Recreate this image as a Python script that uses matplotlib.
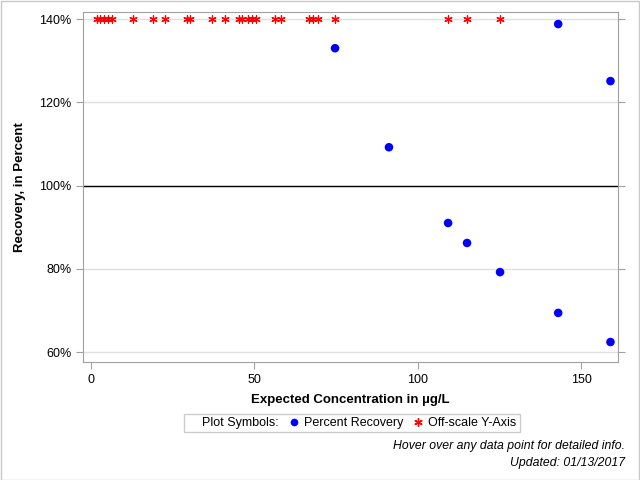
import matplotlib
matplotlib.use('Agg')
import matplotlib.pyplot as plt
from matplotlib.lines import Line2D
from matplotlib.ticker import FuncFormatter

plt.rcParams['font.family'] = ['Liberation Sans', 'DejaVu Sans']

# 회수율 데이터
conc = [74.7, 91.2, 109.3, 115.1, 125.2, 143.0, 159.0, 143.0, 159.0]
recovery = [133.0, 109.2, 91.0, 86.2, 79.2, 69.4, 62.4, 138.8, 125.1]

# 축 밖 값 (140% 위치에 표시)
offscale_conc = [1.8, 2.8, 4.0, 5.2, 6.4, 12.9, 19.0, 22.7, 29.4, 30.3, 37.0,
                 41.0, 45.3, 46.2, 48.1, 49.3, 50.5, 56.3, 58.2, 66.7, 68.0,
                 69.5, 74.7, 109.3, 115.1, 125.2]
offscale_level = 140

y_ticks = [60, 80, 100, 120, 140]
x_ticks = [0, 50, 100, 150]

fig = plt.figure(figsize=(6.4, 4.8), dpi=100)
ax = fig.add_axes([0.1297, 0.2458, 0.8359, 0.7292])

frame = '#a0a0a0'
for s in ax.spines.values():
    s.set_color(frame)

ax.set_xlim(-2.45, 161.3)
ax.set_ylim(57.6, 141.7)
ax.set_yticks(y_ticks)
ax.set_xticks(x_ticks)
ax.yaxis.set_major_formatter(FuncFormatter(lambda v, p: f'{v:.0f}%'))
ax.tick_params(axis='both', colors=frame, labelcolor='black', labelsize=9, length=5)
ax.tick_params(axis='y', right=True)
ax.grid(axis='y', color='#e0e0e0', linewidth=1)
ax.set_axisbelow(True)
ax.axhline(100, color='black', linewidth=1)

ax.scatter(offscale_conc, [offscale_level] * len(offscale_conc),
           marker=(6, 2, 0), s=28, color='red', linewidths=0.9, zorder=3)
ax.scatter(conc, recovery, marker='o', s=38, color='blue', edgecolors='none', zorder=4)

ax.set_xlabel('Expected Concentration in µg/L', fontsize=9.5, fontweight='bold', labelpad=6)
ax.set_ylabel('Recovery, in Percent', fontsize=9.5, fontweight='bold', labelpad=9)

handles = [Line2D([], [], linestyle='none'),
           Line2D([], [], linestyle='none', marker='o', markersize=5.5, color='blue', markeredgecolor='none'),
           Line2D([], [], linestyle='none', marker=(6, 2, 0), markersize=6, color='red')]
labels = ['Plot Symbols:', 'Percent Recovery', 'Off-scale Y-Axis']
leg = fig.legend(handles, labels, loc='center', bbox_to_anchor=(0.55, 0.119), ncol=3,
                 fontsize=9, frameon=True, fancybox=False, edgecolor='#c0c0c0',
                 handlelength=0.8, handletextpad=0.4, columnspacing=0.8,
                 borderpad=0.25, borderaxespad=0)
leg.get_frame().set_linewidth(1)

fig.text(0.977, 0.07, 'Hover over any data point for detailed info.', ha='right', va='center',
         fontsize=8.8, style='italic')
fig.text(0.977, 0.035, 'Updated: 01/13/2017', ha='right', va='center',
         fontsize=8.8, style='italic')

# 바깥 테두리
fig.patches.append(plt.Rectangle((0.001, 0.001), 0.997, 0.997, transform=fig.transFigure,
                                 fill=False, edgecolor='#c8c8c8', linewidth=1))

fig.savefig('out.png', dpi=100)
